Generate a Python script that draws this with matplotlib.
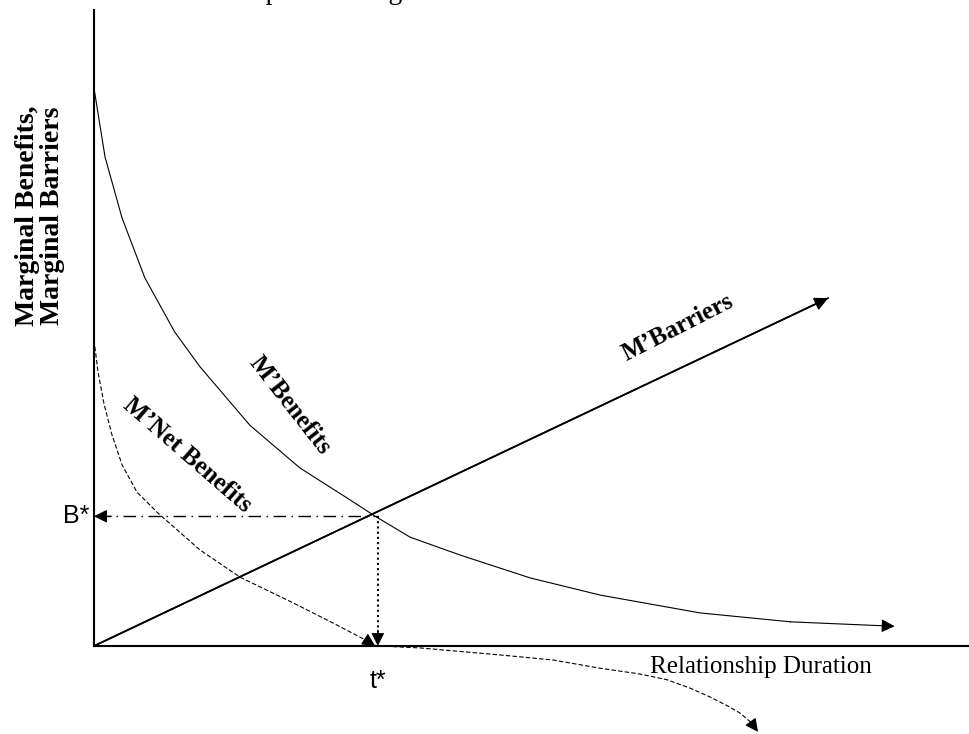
import numpy as np
import matplotlib.pyplot as plt

# values (x: duration units 0..10, y: value units 0..10)
benefits_t = [0.0, 0.126, 0.32, 0.58, 0.92, 1.21, 1.78, 2.35, 2.92, 3.21, 3.61, 4.18, 4.98, 5.78, 6.92, 7.95, 9.14]
benefits_v = [8.77, 7.69, 6.73, 5.79, 4.94, 4.39, 3.47, 2.80, 2.30, 2.04, 1.71, 1.43, 1.07, 0.80, 0.52, 0.38, 0.31]

barriers_t = [0.0, 8.38]
barriers_v = [0.0, 5.47]

net_t = [0.0, 0.046, 0.114, 0.205, 0.32, 0.49, 0.73, 1.21, 1.67, 2.27, 2.73, 3.12, 3.21]
net_v = [4.81, 4.31, 3.81, 3.32, 2.85, 2.42, 2.09, 1.51, 1.08, 0.68, 0.36, 0.08, 0.0]

net_tail_t = [3.26, 3.72, 4.63, 5.24, 5.78, 6.23, 6.54, 6.80, 7.03, 7.23, 7.37, 7.50, 7.58]
net_tail_v = [0.0, -0.03, -0.14, -0.22, -0.35, -0.44, -0.53, -0.66, -0.80, -0.94, -1.05, -1.20, -1.35]

t_star = 3.24
b_star = 2.04

serif = 'Liberation Serif'
sans = 'Liberation Sans'

fig = plt.figure(figsize=(9.7, 7.34), dpi=100)
ax = fig.add_axes([0, 0, 1, 1])
ax.set_xlim(-94 / 87.6, 10)
ax.set_ylim(-88 / 63.6, 646 / 63.6)
ax.axis('off')


def arrow_end(x, y, ls='-', lw=0.8):
    # small filled head on the last segment of a curve
    ax.annotate('', xy=(x[-1], y[-1]), xytext=(x[-2], y[-2]),
                arrowprops=dict(arrowstyle='-|>', mutation_scale=20, lw=lw,
                                color='black', shrinkA=0, shrinkB=0, linestyle=ls))


# axes
ax.plot([0, 0], [0, 10], color='black', lw=1.5)
ax.plot([0, 10], [0, 0], color='black', lw=1.5)

# M'Benefits
ax.plot(benefits_t[:-1], benefits_v[:-1], color='black', lw=0.8)
arrow_end(benefits_t, benefits_v)

# M'Barriers
ax.plot(barriers_t, barriers_v, color='black', lw=1.2)
arrow_end(barriers_t, barriers_v, lw=1.2)

# M'Net Benefits (dashed)
ax.plot(net_t[:-1], net_v[:-1], color='black', lw=0.8, linestyle=(0, (4, 2)))
arrow_end(net_t, net_v)
ax.plot(net_tail_t[:-1], net_tail_v[:-1], color='black', lw=0.8, linestyle=(0, (4, 2)))
arrow_end(net_tail_t, net_tail_v)

# B* and t* guides
ax.plot([0.05, t_star], [b_star, b_star], color='black', lw=1.0, linestyle=(0, (9, 4, 1, 4)))
ax.annotate('', xy=(0.0, b_star), xytext=(0.2, b_star),
            arrowprops=dict(arrowstyle='-|>', mutation_scale=20, lw=0.8, color='black', shrinkA=0, shrinkB=0))
ax.plot([t_star, t_star], [b_star, 0.1], color='black', lw=1.5, linestyle=(0, (1, 1.5)))
ax.annotate('', xy=(t_star, 0.0), xytext=(t_star, 0.25),
            arrowprops=dict(arrowstyle='-|>', mutation_scale=20, lw=0.8, color='black', shrinkA=0, shrinkB=0))

# labels
ax.text(-0.05, b_star, 'B*', fontsize=18, family=sans, ha='right', va='center')
ax.text(t_star, -0.55, 't*', fontsize=18, family=sans, ha='center', va='center')
ax.text(7.61, -0.33, 'Relationship Duration', fontsize=18, family=serif, ha='center', va='center')
ax.text(-0.62, 6.76, 'Marginal Benefits,\nMarginal Barriers', fontsize=20, family=serif,
        fontweight='bold', rotation=90, ha='center', va='center', linespacing=1.0)
ax.text(2.24, 3.79, 'M\u2019Benefits', fontsize=18, family=serif, fontweight='bold',
        rotation=-52, ha='center', va='center', rotation_mode='anchor')
ax.text(1.07, 3.0, 'M\u2019Net Benefits', fontsize=18, family=serif, fontweight='bold',
        rotation=-41, ha='center', va='center', rotation_mode='anchor')
ax.text(6.66, 5.0, 'M\u2019Barriers', fontsize=18, family=serif, fontweight='bold',
        rotation=27, ha='center', va='center', rotation_mode='anchor')

# caption cut off at the top edge
fig.text(139 / 970, 735 / 734, 'Relationship Marketing', fontsize=20, family=serif,
         ha='left', va='baseline')

fig.savefig('out.png', dpi=100)
